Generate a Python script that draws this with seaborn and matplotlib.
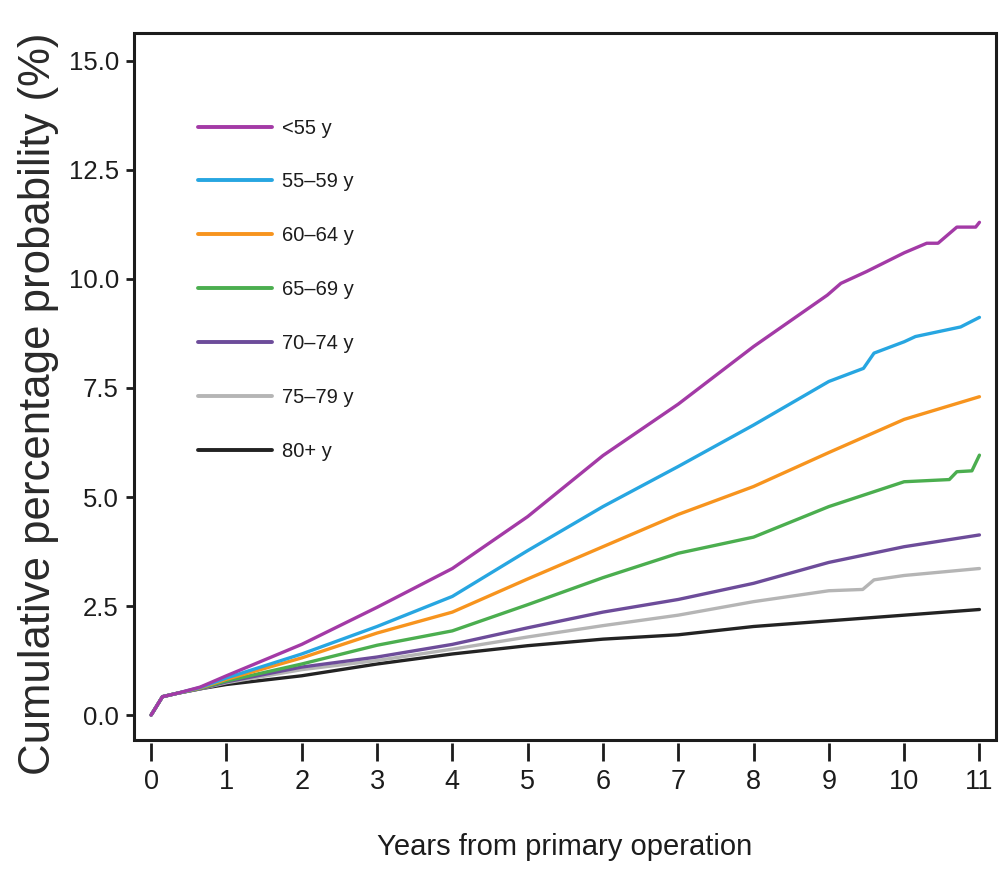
import numpy as np
import pandas as pd
import matplotlib
matplotlib.use("Agg")
import matplotlib.pyplot as plt
import seaborn as sns
from matplotlib.patches import Rectangle

# Cumulative percentage probability by age group at primary operation
groups = ["<55 y", "55\u201359 y", "60\u201364 y", "65\u201369 y", "70\u201374 y", "75\u201379 y", "80+ y"]

yrs_lt55 = [0, 0.15, 0.35, 0.65, 1, 2, 3, 4, 5, 6, 7, 8, 8.98, 9.16, 9.5, 10, 10.3, 10.45, 10.7, 10.95, 11]
pct_lt55 = [0, 0.42, 0.50, 0.64, 0.90, 1.62, 2.47, 3.36, 4.55, 5.95, 7.13, 8.45, 9.63, 9.90, 10.17, 10.60, 10.82, 10.82, 11.19, 11.19, 11.30]

yrs_55_59 = [0, 0.15, 0.35, 0.65, 1, 2, 3, 4, 5, 6, 7, 8, 9, 9.46, 9.6, 10, 10.15, 10.75, 11]
pct_55_59 = [0, 0.42, 0.50, 0.63, 0.85, 1.40, 2.03, 2.72, 3.77, 4.78, 5.70, 6.65, 7.65, 7.95, 8.30, 8.56, 8.68, 8.90, 9.12]

yrs_60_64 = [0, 0.15, 0.35, 0.65, 1, 2, 3, 4, 5, 6, 7, 8, 9, 10, 11]
pct_60_64 = [0, 0.42, 0.50, 0.62, 0.82, 1.31, 1.88, 2.36, 3.12, 3.86, 4.60, 5.24, 6.02, 6.78, 7.30]

yrs_65_69 = [0, 0.15, 0.35, 0.65, 1, 2, 3, 4, 5, 6, 7, 8, 9, 10, 10.6, 10.7, 10.9, 11]
pct_65_69 = [0, 0.42, 0.50, 0.61, 0.78, 1.17, 1.60, 1.93, 2.53, 3.15, 3.71, 4.08, 4.78, 5.35, 5.40, 5.58, 5.60, 5.96]

yrs_70_74 = [0, 0.15, 0.35, 0.65, 1, 2, 3, 4, 5, 6, 7, 8, 9, 10, 11]
pct_70_74 = [0, 0.42, 0.50, 0.60, 0.76, 1.10, 1.33, 1.62, 2.00, 2.36, 2.65, 3.02, 3.50, 3.86, 4.13]

yrs_75_79 = [0, 0.15, 0.35, 0.65, 1, 2, 3, 4, 5, 6, 7, 8, 9, 9.45, 9.6, 10, 11]
pct_75_79 = [0, 0.42, 0.50, 0.60, 0.74, 1.04, 1.25, 1.51, 1.79, 2.05, 2.29, 2.60, 2.85, 2.88, 3.10, 3.20, 3.36]

yrs_80 = [0, 0.15, 0.35, 0.65, 1, 2, 3, 4, 5, 6, 7, 8, 9, 10, 11]
pct_80 = [0, 0.42, 0.50, 0.60, 0.70, 0.90, 1.17, 1.40, 1.59, 1.74, 1.84, 2.03, 2.16, 2.29, 2.42]

colors = ["#A33AA6", "#27A6E1", "#F7941E", "#4BAE4F", "#6D4C9A", "#B5B5B5", "#232323"]

x_ticks = list(range(0, 12))
y_ticks = [0.0, 2.5, 5.0, 7.5, 10.0, 12.5, 15.0]

series_years = [yrs_lt55, yrs_55_59, yrs_60_64, yrs_65_69, yrs_70_74, yrs_75_79, yrs_80]
series_pct = [pct_lt55, pct_55_59, pct_60_64, pct_65_69, pct_70_74, pct_75_79, pct_80]

frames = []
for g, yrs, pct in zip(groups, series_years, series_pct):
    frames.append(pd.DataFrame({"years": yrs, "pct": pct, "group": g}))
df = pd.concat(frames, ignore_index=True)

sns.set_theme(style="white")
plt.rcParams["font.family"] = ["Liberation Sans", "DejaVu Sans"]
text_color = "#1c1c1c"

fig = plt.figure(figsize=(10.01, 8.82), dpi=100)
ax = fig.add_axes([0.134, 0.161, 0.861, 0.8015])

# older groups drawn first so the youngest group sits on top
for g, c in reversed(list(zip(groups, colors))):
    sns.lineplot(data=df[df["group"] == g], x="years", y="pct", color=c,
                 linewidth=2.4, estimator=None, sort=False, ax=ax, label=g)

ax.set_xlim(-0.226, 11.22)
ax.set_ylim(-0.573, 15.64)
ax.set_xticks(x_ticks)
ax.set_xticklabels([str(t) for t in x_ticks])
ax.set_yticks(y_ticks)
ax.set_yticklabels([f"{v:.1f}" for v in y_ticks])

for s in ax.spines.values():
    s.set_visible(False)
ax.spines["bottom"].set_position(("outward", 2))
ax.add_patch(Rectangle((0, 0), 1, 1, transform=ax.transAxes, fill=False,
                       edgecolor="#1c1c1c", linewidth=2.2, clip_on=False, zorder=5))

ax.tick_params(axis="x", bottom=True, length=13, width=2.0, color="#1c1c1c",
               pad=6, labelsize=19.5, labelcolor=text_color)
ax.tick_params(axis="y", left=True, length=6, width=2.0, color="#1c1c1c",
               pad=5, labelsize=18.5, labelcolor=text_color)

ax.set_xlabel("Years from primary operation", fontsize=21, color=text_color,
              labelpad=27)
ax.set_ylabel("Cumulative percentage probability (%)", fontsize=31.5,
              color="#2a2a2a", labelpad=7)
ax.yaxis.label.set_y(0.475)

handles, labels = ax.get_legend_handles_labels()
order = [labels.index(g) for g in groups]
leg = ax.legend([handles[i] for i in order], [labels[i] for i in order],
                loc="upper left", bbox_to_anchor=(0.074, 0.879), frameon=False,
                fontsize=14.5, handlelength=3.7, handletextpad=0.5,
                labelspacing=1.73, borderpad=0, borderaxespad=0)
for t in leg.get_texts():
    t.set_color(text_color)
for h in leg.get_lines():
    h.set_linewidth(2.8)

fig.savefig("out.png", dpi=100)
